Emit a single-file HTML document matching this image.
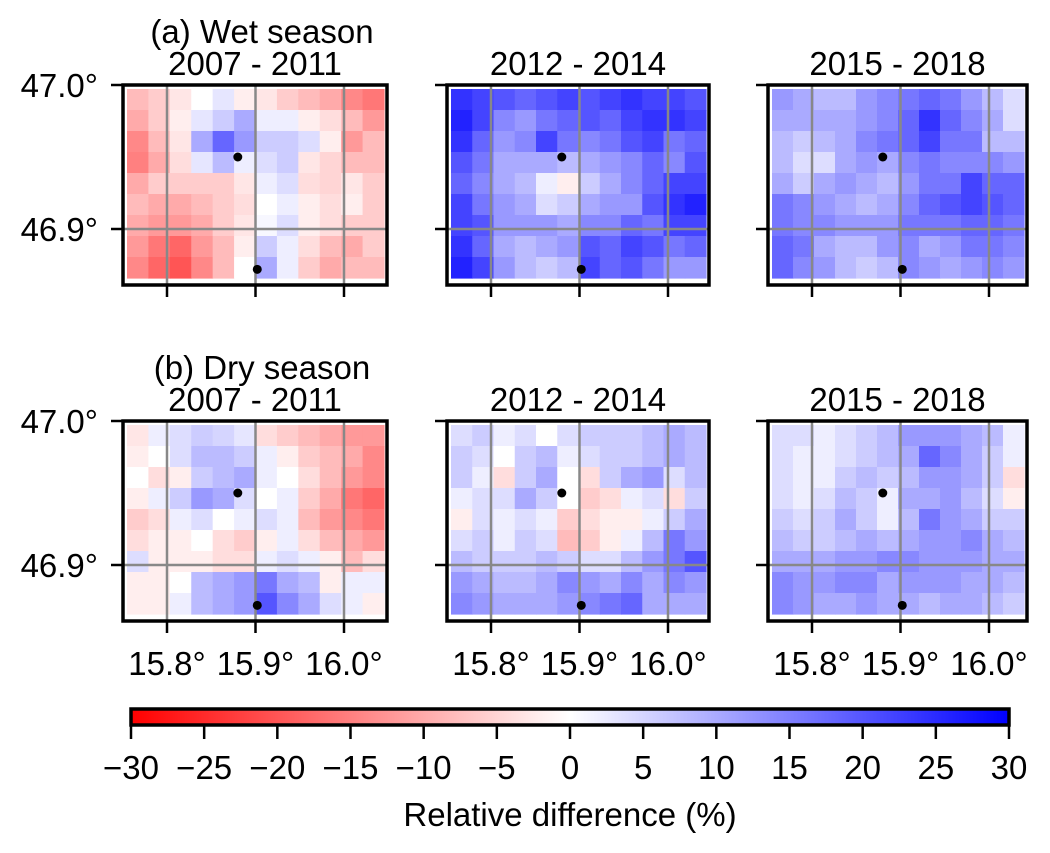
<!DOCTYPE html>
<html><head><meta charset="utf-8"><style>
body{margin:0;background:#fff}
svg{display:block;font-family:"Liberation Sans",sans-serif}
</style></head><body>
<svg id="fig" width="1050" height="853" viewBox="0 0 1050 853" xmlns="http://www.w3.org/2000/svg"></svg>
<script>
const panelTitles=[["(a) Wet season","2007 - 2011"],["2012 - 2014"],["2015 - 2018"],["(b) Dry season","2007 - 2011"],["2012 - 2014"],["2015 - 2018"]];
const xTickLabels=["15.8°","15.9°","16.0°"];
const xTickValues=[15.8,15.9,16.0];
const yTickLabels=["47.0°","46.9°"];
const yTickValues=[47.0,46.9];
const cbTicks=[-30,-25,-20,-15,-10,-5,0,5,10,15,20,25,30];
const stations=[[15.88,46.95],[15.902,46.872]];
const gridA1=[
[-8,-6,-3,0,3,-2,-3,-6,-8,-10,-14,-16],
[-10,-6,-2,3,6,10,2,2,-2,-4,-8,-12],
[-14,-8,-3,10,18,12,6,6,4,-2,-12,-8],
[-15,-10,-4,3,8,2,4,6,-3,-5,-8,-8],
[-10,-6,-6,-6,-6,-3,2,4,-4,-5,-3,-6],
[-8,-10,-10,-8,-6,-4,0,2,-2,-4,-2,-6],
[-10,-12,-12,-10,-6,-3,1,4,-2,-4,-6,-6],
[-12,-16,-18,-12,-8,-2,6,2,-4,-8,-10,-6],
[-14,-18,-20,-14,-8,0,10,2,-6,-10,-8,-8]];
const gridA2=[
[24,22,20,18,20,22,20,22,24,22,22,20],
[26,22,14,12,16,18,20,18,22,24,24,22],
[24,18,12,14,22,16,14,16,20,22,16,18],
[20,16,10,10,10,8,10,12,14,18,14,20],
[18,14,10,8,2,-2,6,10,14,18,22,22],
[22,16,12,10,4,6,10,12,12,20,24,26],
[22,20,12,12,12,10,14,14,18,16,22,22],
[24,18,10,8,10,12,20,18,22,20,16,18],
[26,22,12,8,6,8,22,18,20,16,12,12]];
const gridA3=[
[12,10,8,8,12,14,16,18,16,12,8,4],
[10,10,10,10,12,14,18,24,18,14,10,4],
[8,6,8,10,14,16,18,22,16,16,8,8],
[8,4,4,10,12,10,14,16,14,14,14,12],
[10,6,10,12,10,8,12,16,16,22,18,18],
[16,14,12,10,8,10,14,18,20,22,20,18],
[16,14,14,12,12,12,16,16,16,18,18,16],
[18,16,10,8,8,12,14,10,12,16,16,14],
[18,14,12,8,6,8,14,12,10,12,14,12]];
const gridB1=[
[-3,2,4,6,5,3,-4,-6,-8,-10,-12,-12],
[-2,0,4,8,8,6,2,-2,-6,-8,-10,-14],
[0,-4,-2,6,8,10,2,0,-4,-8,-12,-14],
[-2,2,6,12,10,4,0,2,-6,-10,-16,-18],
[-6,-4,2,4,0,2,4,2,-8,-12,-14,-16],
[-4,-2,-2,0,-4,-6,-2,2,-4,-8,-10,-12],
[4,-2,-2,-2,-4,-4,2,4,2,-2,-8,-4],
[-2,-2,0,8,10,12,16,10,8,-2,2,2],
[-2,-2,2,8,10,12,20,14,10,4,2,-2]];
const gridB2=[
[4,6,2,4,0,4,6,6,6,8,10,8],
[6,4,0,6,8,2,4,6,6,8,10,8],
[6,2,-4,6,10,0,-4,6,10,12,4,8],
[2,4,4,10,6,0,-6,-4,2,4,-4,6],
[-2,4,2,4,2,-6,-4,-2,-2,2,6,10],
[4,6,2,6,4,-8,-6,-2,2,8,16,12],
[8,6,6,6,8,6,4,4,8,12,16,20],
[12,10,8,8,10,14,12,10,14,10,14,12],
[14,12,10,10,10,12,14,16,18,10,10,10]];
const gridB3=[
[4,4,2,4,6,8,12,12,12,10,8,2],
[4,2,2,4,6,8,10,18,14,10,6,2],
[4,2,2,6,8,6,8,12,12,10,6,-4],
[4,2,4,8,6,2,10,10,12,8,4,-2],
[6,4,6,10,6,2,8,16,12,10,6,6],
[8,6,6,8,10,8,10,12,12,14,10,8],
[10,10,10,12,12,14,14,12,12,12,10,10],
[14,12,12,14,14,10,12,12,12,10,10,8],
[14,12,10,10,12,10,10,8,10,10,8,6]];
const grids=[gridA1,gridA2,gridA3,gridB1,gridB2,gridB3];

const NS="http://www.w3.org/2000/svg";
const svg=document.getElementById('fig');
function mk(tag,attrs,parent){const e=document.createElementNS(NS,tag);for(const k in attrs)e.setAttribute(k,attrs[k]);(parent||svg).appendChild(e);return e;}
function color(v){let t=Math.max(-1,Math.min(1,v/30));
 if(t<0){const c=Math.round(255*(1+t));return `rgb(255,${c},${c})`;}
 const c=Math.round(255*(1-t));return `rgb(${c},${c},255)`;}
const FS=33;
const frames=[[123,85],[447,85],[768,85],[123,421],[447,421],[768,421]];
const fW=[264,262,259];const fH=200;
function xs(p,lon){return frames[p][0]+44+(lon-15.8)*885;}
function ys(p,lat){return frames[p][1]+(47.0-lat)*1440;}
for(let p=0;p<6;p++){
 const [L,T]=frames[p];const W=fW[p%3];
 const g=mk('g',{});
 
 
 const grid=grids[p];const rows=grid.length,cols=grid[0].length;
 const x0=L+4,y0=T+4,w=W-7,h=fH-11;
 for(let r=0;r<rows;r++)for(let c=0;c<cols;c++){
  const cell=mk('rect',{x:x0+c*w/cols,y:y0+r*h/rows,width:w/cols+0.6,height:h/rows+0.6,fill:color(grid[r][c])},g);
  
  
 }
 xTickValues.forEach((v,i)=>{const x=xs(p,v);
  const gl=mk('line',{x1:x,x2:x,y1:T,y2:T+fH,stroke:'#888',"stroke-width":2.5},g);
  
  mk('line',{x1:x,x2:x,y1:T+fH,y2:T+fH+12,stroke:'#000',"stroke-width":2.5},g);
  if(p>=3){const t=mk('text',{x:x,y:T+fH+54,"text-anchor":"middle","font-size":FS},g);t.textContent=xTickLabels[i];
   }
 });
 yTickValues.forEach((v,i)=>{const y=ys(p,v);
  const gl=mk('line',{x1:L,x2:L+W,y1:y,y2:y,stroke:'#888',"stroke-width":2.5},g);
  
  mk('line',{x1:L-12,x2:L,y1:y,y2:y,stroke:'#000',"stroke-width":2.5},g);
  if(p%3===0){const t=mk('text',{x:L-25,y:y+12,"text-anchor":"end","font-size":FS},g);t.textContent=yTickLabels[i];
   }
 });
 stations.forEach(s=>{const d=mk('circle',{cx:xs(p,s[0]),cy:ys(p,s[1]),r:4.5,fill:'#000'},g);
  });
 const fr=mk('rect',{x:L,y:T,width:W,height:fH,fill:'none',stroke:'#000',"stroke-width":3.5},g);
 
 const tl=panelTitles[p];const cx=L+W/2;
 tl.forEach((s,i)=>{const t=mk('text',{x:cx+(tl.length>1&&i===0?7:0),y:T-10-(tl.length-1-i)*32,"text-anchor":"middle","font-size":FS},g);t.textContent=s;
  });
}
const defs=mk('defs',{});const lg=mk('linearGradient',{id:'cb',x1:0,x2:1,y1:0,y2:0},defs);
mk('stop',{offset:'0',"stop-color":'#f00'},lg);mk('stop',{offset:'0.5',"stop-color":'#fff'},lg);mk('stop',{offset:'1',"stop-color":'#00f'},lg);
const cbL=131,cbR=1009,cbT=709,cbH=16;
const cb=mk('rect',{x:cbL,y:cbT,width:cbR-cbL,height:cbH,fill:'url(#cb)',stroke:'#000',"stroke-width":3.5});

function cx(v){return cbL+(v+30)/60*(cbR-cbL);}
cbTicks.forEach(v=>{const x=cx(v);
 mk('line',{x1:x,x2:x,y1:cbT+cbH,y2:cbT+cbH+14,stroke:'#000',"stroke-width":2.5});
 const t=mk('text',{x:x,y:779,"text-anchor":"middle","font-size":FS});t.textContent=(v<0?'\u2212'+(-v):String(v));
 });
const cl=mk('text',{x:570,y:826,"text-anchor":"middle","font-size":FS});cl.textContent='Relative difference (%)';

</script>
</body></html>
